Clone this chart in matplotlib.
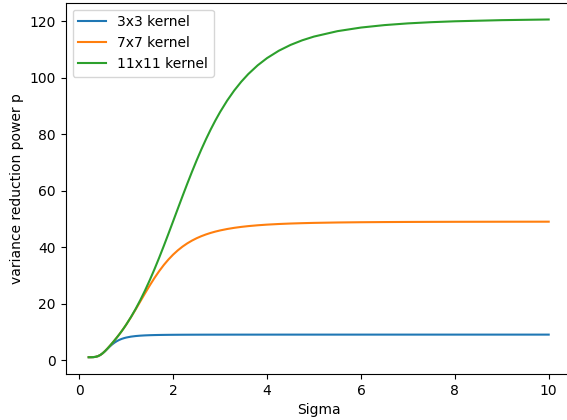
import matplotlib
matplotlib.use("Agg")
import matplotlib.pyplot as plt

sigma = [0.2, 0.25, 0.3, 0.35, 0.4, 0.45, 0.5, 0.55, 0.6, 0.65, 0.7, 0.75, 0.8, 0.85,
         0.9, 0.95, 1.0, 1.1, 1.2, 1.3, 1.4, 1.5, 1.6, 1.7, 1.8, 1.9, 2.0, 2.1, 2.2,
         2.3, 2.4, 2.5, 2.6, 2.7, 2.8, 2.9, 3.0, 3.15, 3.3, 3.45, 3.6, 3.8, 4.0, 4.25,
         4.5, 4.75, 5.0, 5.5, 6.0, 6.5, 7.0, 7.5, 8.0, 9.0, 10.0]

p_3x3 = [1.0, 1.003, 1.031, 1.141, 1.390, 1.817, 2.426, 3.176, 3.991, 4.794, 5.525,
         6.159, 6.685, 7.116, 7.463, 7.740, 7.962, 8.282, 8.490, 8.630, 8.726, 8.793,
         8.840, 8.875, 8.901, 8.920, 8.935, 8.947, 8.956, 8.963, 8.969, 8.974, 8.978,
         8.981, 8.984, 8.986, 8.987, 8.990, 8.992, 8.993, 8.994, 8.995, 8.996, 8.997,
         8.998, 8.998, 8.998, 8.999, 8.999, 9.0, 9.0, 9.0, 9.0, 9.0, 9.0]

p_7x7 = [1.0, 1.003, 1.031, 1.141, 1.390, 1.817, 2.431, 3.201, 4.074, 5.005, 5.970,
         6.961, 7.985, 9.050, 10.163, 11.330, 12.550, 15.145, 17.902, 20.753, 23.608,
         26.386, 29.014, 31.443, 33.645, 35.608, 37.339, 38.850, 40.164, 41.299,
         42.277, 43.120, 43.844, 44.468, 45.008, 45.473, 45.875, 46.380, 46.792,
         47.127, 47.404, 47.698, 47.930, 48.151, 48.319, 48.448, 48.548, 48.689,
         48.779, 48.838, 48.880, 48.909, 48.929, 48.956, 48.971]

p_11x11 = [1.0, 1.003, 1.031, 1.141, 1.390, 1.817, 2.431, 3.201, 4.074, 5.005, 5.970,
           6.961, 7.985, 9.050, 10.165, 11.335, 12.564, 15.206, 18.095, 21.237,
           24.624, 28.253, 32.108, 36.167, 40.396, 44.752, 49.185, 53.640, 58.067,
           62.411, 66.631, 70.690, 74.555, 78.206, 81.637, 84.837, 87.806, 91.841,
           95.395, 98.510, 101.231, 104.319, 106.880, 109.479, 111.540, 113.181,
           114.496, 116.410, 117.685, 118.552, 119.159, 119.588, 119.901, 120.306,
           120.540]

labels = ["3x3 kernel", "7x7 kernel", "11x11 kernel"]

fig = plt.figure(figsize=(5.67, 4.2), dpi=100)
ax = fig.add_axes([65.7 / 567, 1 - 374.1 / 420, 506 / 567, 371.5 / 420])
ax.plot(sigma, p_3x3, label=labels[0])
ax.plot(sigma, p_7x7, label=labels[1])
ax.plot(sigma, p_11x11, label=labels[2])
ax.set_xlabel("Sigma")
ax.set_ylabel("variance reduction power p")
ax.legend(loc="upper left")
fig.savefig("out.png", dpi=100)
